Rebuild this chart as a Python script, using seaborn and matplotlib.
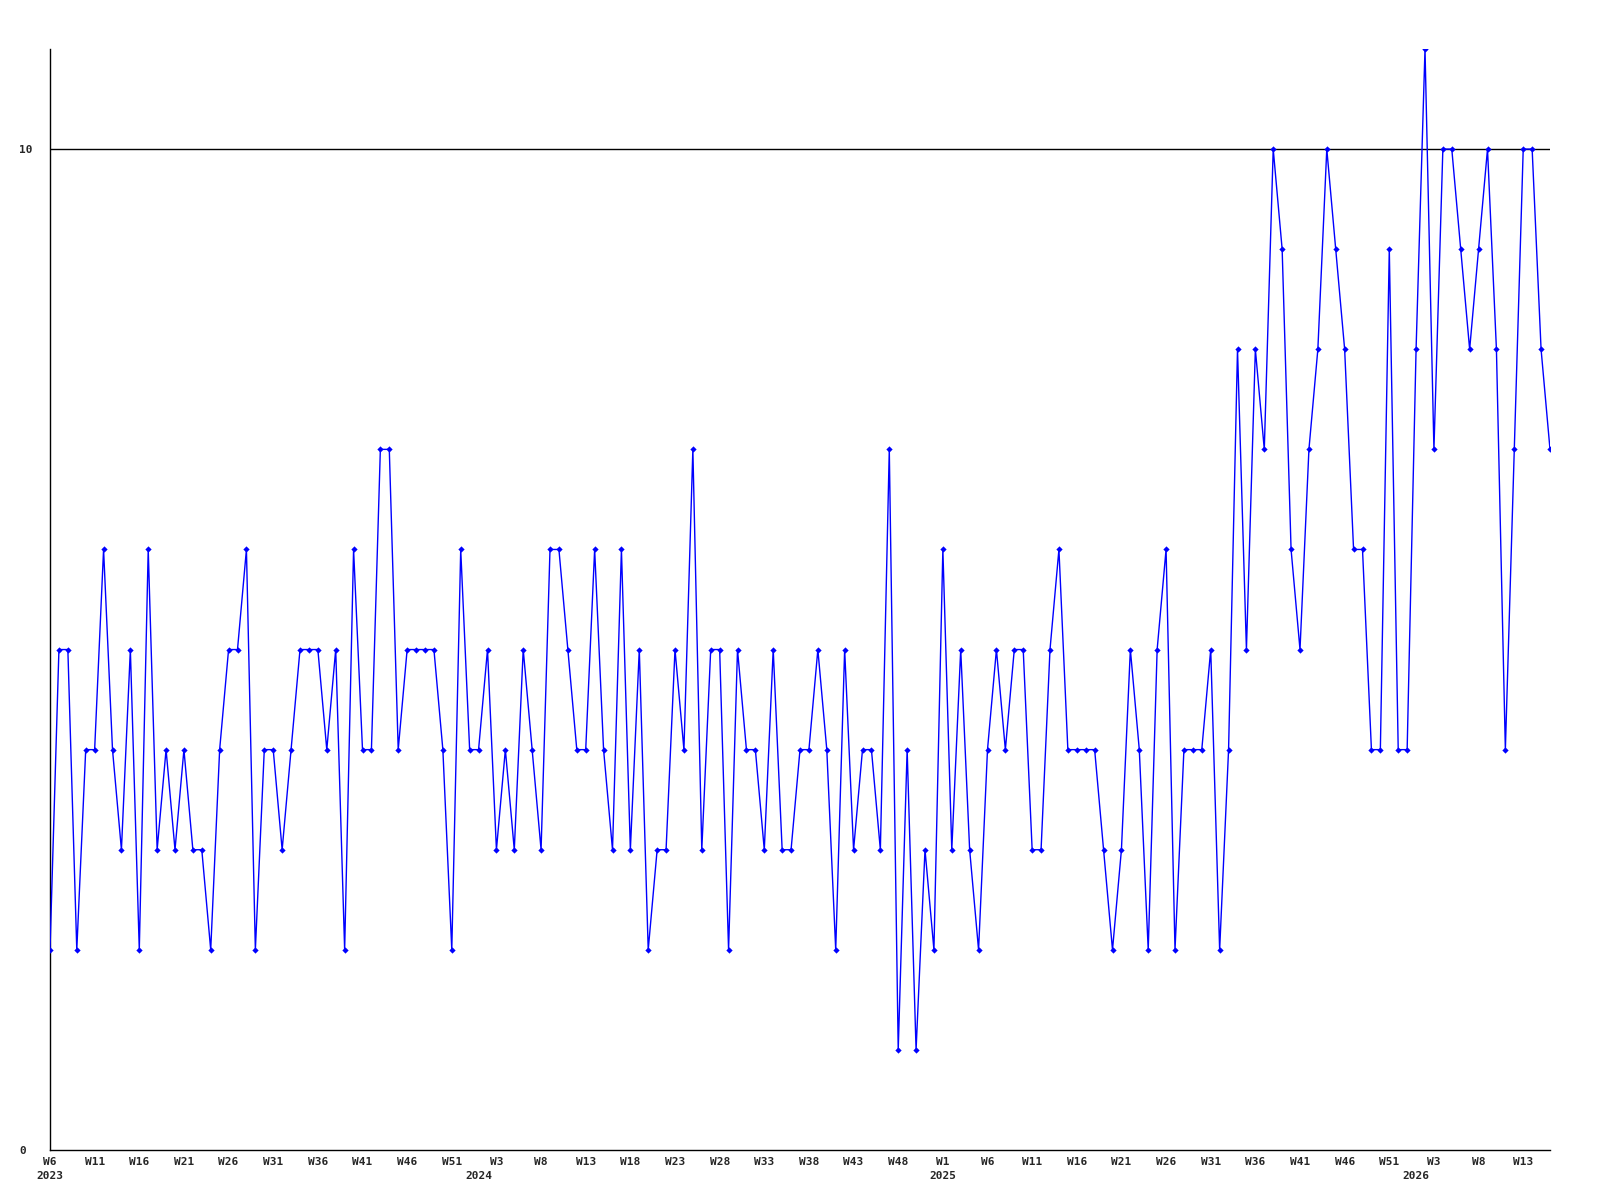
import matplotlib
matplotlib.use("Agg")
import matplotlib.pyplot as plt
import seaborn as sns
import pandas as pd

# ---- data ----
years = [2023, 2024, 2025, 2026]
first_week = [6, 1, 1, 1]
last_week = [53, 52, 53, 16]

values_2023 = [2, 5, 5, 2, 4, 4, 6, 4, 3, 5, 2, 6, 3, 4, 3, 4, 3, 3, 2, 4, 5, 5, 6, 2,
               4, 4, 3, 4, 5, 5, 5, 4, 5, 2, 6, 4, 4, 7, 7, 4, 5, 5, 5, 5, 4, 2, 6, 4]
values_2024 = [4, 5, 3, 4, 3, 5, 4, 3, 6, 6, 5, 4, 4, 6, 4, 3, 6, 3, 5, 2, 3, 3, 5, 4, 7, 3,
               5, 5, 2, 5, 4, 4, 3, 5, 3, 3, 4, 4, 5, 4, 2, 5, 3, 4, 4, 3, 7, 1, 4, 1, 3, 2]
values_2025 = [6, 3, 5, 3, 2, 4, 5, 4, 5, 5, 3, 3, 5, 6, 4, 4, 4, 4, 3, 2, 3, 5, 4, 2, 5, 6, 2,
               4, 4, 4, 5, 2, 4, 8, 5, 8, 7, 10, 9, 6, 5, 7, 8, 10, 9, 8, 6, 6, 4, 4, 9, 4, 4]
values_2026 = [8, 11, 7, 10, 10, 9, 8, 9, 10, 8, 4, 7, 10, 10, 8, 7]

y_ticks = [0, 10]
y_tick_labels = ["0", "10"]
ref_line = 10

# ---- build table ----
week_labels, year_of, values = [], [], []
for yr, fw, lw, vals in zip(years, first_week, last_week,
                            [values_2023, values_2024, values_2025, values_2026]):
    for w, v in zip(range(fw, lw + 1), vals):
        week_labels.append(f"W{w}")
        year_of.append(yr)
        values.append(v)
df = pd.DataFrame({"idx": range(len(values)), "value": values,
                   "week": week_labels, "year": year_of})

sns.set_style("white")
plt.rcParams["font.family"] = ["DejaVu Sans Mono", "DejaVu Sans"]

fig = plt.figure(figsize=(16, 12), dpi=100)
ax = fig.add_axes([50 / 1600, 1 - 1150 / 1200, 1500 / 1600, (1150 - 49) / 1200])

ax.axhline(ref_line, color="black", lw=1, zorder=1)
sns.lineplot(data=df, x="idx", y="value", color="#0000ff", linewidth=1,
             marker="D", markersize=3.2, markeredgewidth=0, ax=ax, zorder=3)

ax.set_xlim(0, len(values) - 1)
ax.set_ylim(0, 11)
ax.set_xlabel("")
ax.set_ylabel("")

tick_idx = list(range(0, len(values), 5))
ax.set_xticks(tick_idx)
ax.set_xticklabels([week_labels[i] for i in tick_idx], fontsize=8, fontweight="bold")
ax.set_yticks(y_ticks)
ax.set_yticklabels(y_tick_labels, fontsize=8, fontweight="bold", ha="left")
ax.tick_params(axis="x", length=0, pad=5)
ax.tick_params(axis="y", length=0, pad=22)

# year labels under the first week of each year
for yr in years:
    i = year_of.index(yr)
    ax.annotate(str(yr), xy=(i, 0), xycoords=("data", "axes fraction"),
                xytext=(0, -15), textcoords="offset points",
                ha="center", va="top", fontsize=8, fontweight="bold")

for s in ["top", "right"]:
    ax.spines[s].set_visible(False)
for s in ["left", "bottom"]:
    ax.spines[s].set_color("black")
    ax.spines[s].set_linewidth(1)

fig.savefig("out.png", dpi=100)
